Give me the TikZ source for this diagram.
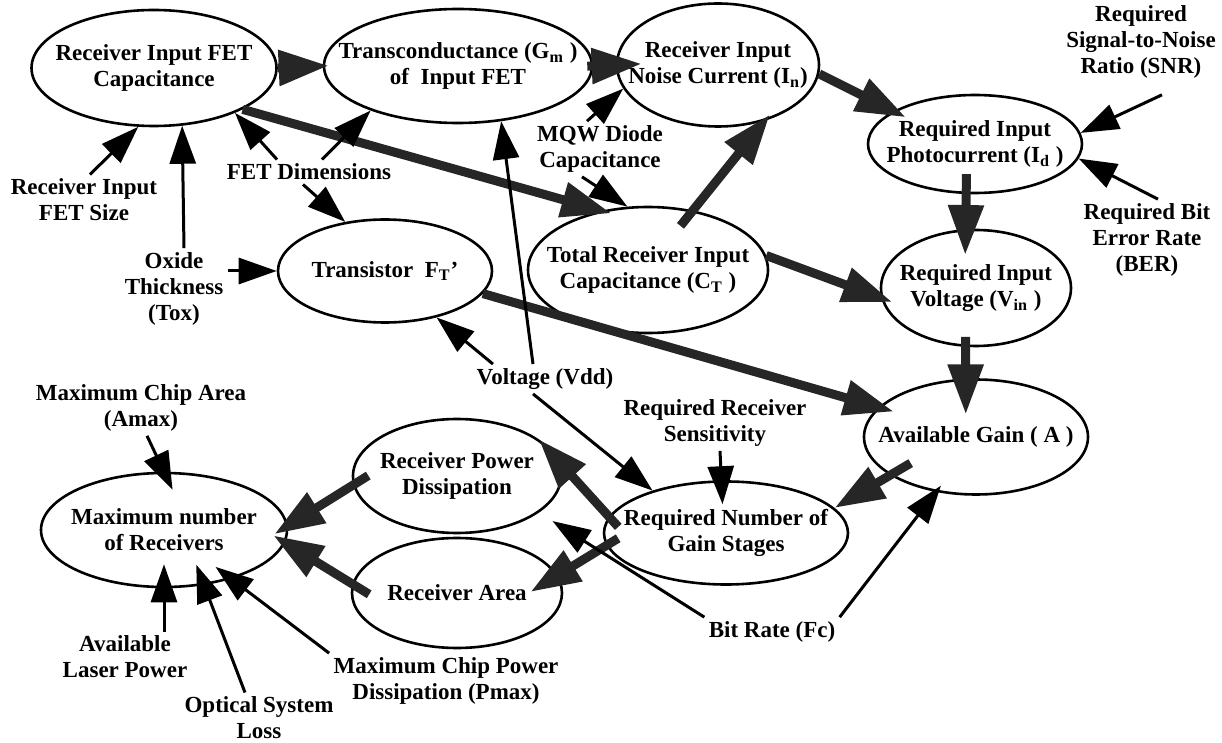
\documentclass[tikz,border=0pt]{standalone}
\usepackage{fontspec}
\setmainfont{Liberation Serif}
\usetikzlibrary{shapes.geometric,arrows.meta}

\begin{document}
\begin{tikzpicture}[x=0.5pt,y=-0.5pt]
        \tikzstyle{every node}=[font=\fontsize{11.5}{13}\selectfont\bfseries]
        \tikzstyle{factor}=[ellipse,draw,line width=1.3pt,inner sep=0pt]
        \tikzstyle{txt}=[align=center]
        \tikzstyle{cause}=[align=center,inner sep=2pt]
        \tikzstyle{strong}=[draw=black!85,line width=4.5pt,-{Triangle[length=25pt,width=17pt]}]
        \tikzstyle{weak}=[draw=black,line width=1.5pt,-{Triangle[length=19pt,width=13pt]}]
        \useasboundingbox (0,0) rectangle (1222,743);
       % quantities
         \node [factor,minimum width=122.5pt,minimum height=58pt,label={[txt]center:Receiver Input FET\\Capacitance}] (rifc) at (154,68) {};
         \node [factor,minimum width=134pt,minimum height=57pt,label={[txt]center:Transconductance (G\textsubscript{m} )\\of\ \ Input FET}] (gm) at (458,66) {};
         \node [factor,minimum width=101pt,minimum height=61.5pt,label={[txt]center:Receiver Input\\Noise Current (I\textsubscript{n})}] (inoise) at (718,65) {};
         \node [factor,minimum width=107pt,minimum height=49pt,label={[txt]center:Required Input\\Photocurrent (I\textsubscript{d} )}] (iphoto) at (975,144) {};
         \node [factor,minimum width=120pt,minimum height=63pt,label={[txt]center:Total Receiver Input\\Capacitance (C\textsubscript{T} )}] (ctot) at (648,270) {};
         \node [factor,minimum width=107pt,minimum height=51.5pt,label={[txt]center:Transistor\ \ F\textsubscript{T}'}] (ft) at (385,271) {};
         \node [factor,minimum width=95pt,minimum height=58pt,label={[txt]center:Required Input\\Voltage (V\textsubscript{in} )}] (vin) at (976,288) {};
         \node [factor,minimum width=112pt,minimum height=57.5pt,label={[txt]center:Available Gain ( A )}] (gain) at (976,437) {};
         \node [factor,minimum width=122pt,minimum height=51.5pt,label={[txt]center:Required Number of\\Gain Stages}] (nstage) at (726,533) {};
         \node [factor,minimum width=104pt,minimum height=57pt,label={[txt]center:Receiver Power\\Dissipation}] (pdiss) at (457,476) {};
         \node [factor,minimum width=105pt,minimum height=55pt,label={[txt]center:Receiver Area}] (area) at (457,593) {};
         \node [factor,minimum width=123pt,minimum height=57pt,label={[txt]center:Maximum number\\of Receivers}] (nmax) at (164,530) {};
       % inputs
         \node [cause] (fetsize) at (84,200) {Receiver Input\\FET Size};
         \node [cause] (tox) at (174,289) {Oxide\\Thickness\\(Tox)};
         \node [cause] (fetdim) at (309,172) {FET Dimensions};
         \node [cause] (mqw) at (600,149) {MQW Diode\\Capacitance};
         \node [cause] (snr) at (1141,42) {Required\\Signal-to-Noise\\Ratio (SNR)};
         \node [cause] (ber) at (1147,240) {Required Bit\\Error Rate\\(BER)};
         \node [cause] (vdd) at (545,379) {Voltage (Vdd)};
         \node [cause] (amax) at (141,408) {Maximum Chip Area\\(Amax)};
         \node [cause] (sens) at (715,423) {Required Receiver\\Sensitivity};
         \node [cause] (bitrate) at (772,632) {Bit Rate (Fc)};
         \node [cause] (laser) at (125,657) {Available\\Laser Power};
         \node [cause] (loss) at (259,718) {Optical System\\Loss};
         \node [cause] (pmax) at (446,681) {Maximum Chip Power\\Dissipation (Pmax)};
       % strong links
         \draw[strong,shorten >=-3pt] (rifc.east) -- (gm.west);
         \draw[strong,shorten >=-5pt] (rifc.-25) -- (ctot.128);
         \draw[strong,shorten <=-3pt,shorten >=-13pt] (gm.east) -- (inoise.west);
         \draw[strong,shorten <=-10pt,shorten >=-4pt] (ctot.53) -- (inoise.-50);
         \draw[strong,shorten >=-7pt] (inoise.-5) -- (iphoto.158);
         \draw[strong,shorten <=-10pt,shorten >=-13pt] (iphoto.-100) -- (vin.100);
         \draw[strong,shorten >=-6pt] (ctot.7) -- (vin.186);
         \draw[strong,shorten <=-5pt,shorten >=-18pt] (vin.-100) -- (gain.100);
         \draw[strong,shorten >=-8pt] (ft.-13) -- (gain.163);
         \draw[strong,shorten <=-12pt] (gain.204) -- (nstage.13);
         \draw[strong,shorten <=-7pt,shorten >=-15pt] (nstage.172) -- (pdiss.8);
         \draw[strong,shorten <=-7pt,shorten >=-16pt] (nstage.186) -- (area.10);
         \draw[strong,shorten <=-9pt,shorten >=-8pt] (pdiss.185) -- (nmax.2);
         \draw[strong,shorten <=-10pt,shorten >=-7pt] (area.175) -- (nmax.-6);
       % weak links
         \draw[weak] ([xshift=3pt]fetsize.north) -- (rifc.-105);
         \draw[weak] ([xshift=5pt]tox.north) -- (rifc.-64);
         \draw[weak] (tox.east |- ft.west) -- (ft.west);
         \draw[weak] ([xshift=-16pt]fetdim.north) -- (rifc.-29);
         \draw[weak] ([xshift=6.5pt]fetdim.north) -- (gm.207);
         \draw[weak] ([xshift=-3pt]fetdim.south) -- (ft.129);
         \draw[weak] ([xshift=-6.5pt]mqw.north) -- (inoise.194);
         \draw[weak] ([xshift=-9pt]mqw.south) -- (ctot.108);
         \draw[weak] ([xshift=10.5pt,yshift=-6pt]snr.south) -- (iphoto.6);
         \draw[weak] ([xshift=5.5pt]ber.north) -- (iphoto.-8);
         \draw[weak] ([xshift=-26pt]vdd.north) -- (ft.-42);
         \draw[weak] ([xshift=-6pt]vdd.north) -- (gm.-52);
         \draw[weak] ([xshift=-6pt]vdd.south) -- (nstage.150);
         \draw[weak,shorten >=-12pt] ([xshift=2.5pt]sens.south) -- (nstage.95);
         \draw[weak,shorten >=8pt] (bitrate.north west) -- (pdiss.-24);
         \draw[weak,shorten >=-4pt] (bitrate.north east) -- (gain.234);
         \draw[weak,shorten >=-10pt] ([xshift=3pt]amax.south) -- (nmax.north);
         \draw[weak,shorten >=-12pt] ([xshift=19.5pt]laser.north) -- (nmax.south);
         \draw[weak,shorten >=-11pt] ([xshift=-7pt]loss.north) -- (nmax.-54);
         \draw[weak,shorten >=-10pt] (pmax.north west) -- (nmax.-36);
\end{tikzpicture}
\end{document}
